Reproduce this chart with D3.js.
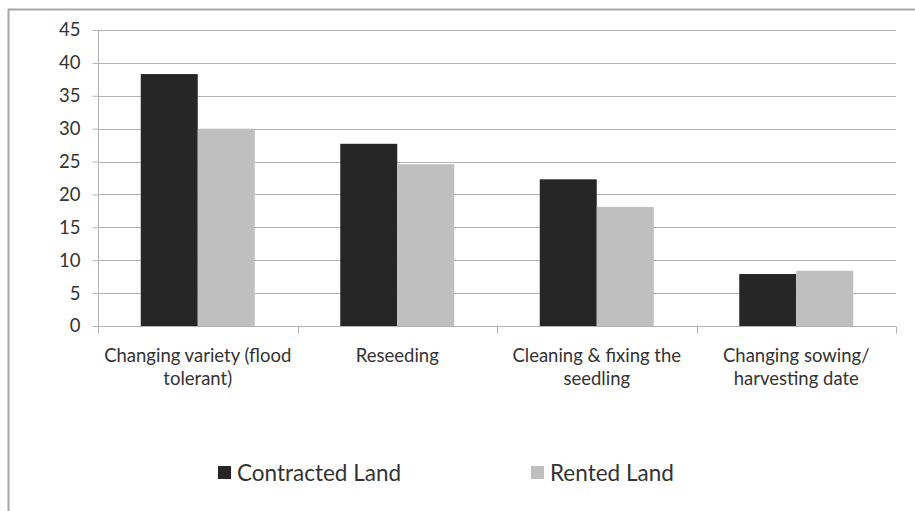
<!DOCTYPE html>
<html><head><meta charset="utf-8">
<script src="https://cdn.jsdelivr.net/npm/d3@7"></script>
<style>body{margin:0;background:#fff}svg{display:block}</style>
</head><body><svg id="c" width="915" height="511"></svg>
<script>
const categories = [["Changing variety (flood","tolerant)"],["Reseeding"],["Cleaning & fixing the","seedling"],["Changing sowing/","harvesting date"]];
const seriesNames = ["Contracted Land","Rented Land"];
const contracted = [38.3, 27.7, 22.3, 7.9];
const rented = [30.0, 24.6, 18.1, 8.4];
const yTicks = [0,5,10,15,20,25,30,35,40,45];
const colors = ["#262626","#bfbfbf"];
const font = "Lato, 'Open Sans', sans-serif";
const textColor = "#333333";

const svg = d3.select("#c");
// frame
svg.append("line").attr("x1",8.5).attr("x2",8.5).attr("y1",9).attr("y2",511).attr("stroke","#a6a6a6").attr("stroke-width",2);
svg.append("line").attr("x1",8).attr("x2",915).attr("y1",9.5).attr("y2",9.5).attr("stroke","#a6a6a6").attr("stroke-width",2);

const L=98, R=896, T=30, B=326;
const idx = categories.map((d,i)=>i);
const x = d3.scaleBand().domain(idx).range([L,R]).paddingInner(0).paddingOuter(0);
const y = d3.scaleLinear().domain([0,45]).range([B,T]);
const x1 = d3.scaleBand().domain([0,1]).range([0,x.bandwidth()]).paddingInner(0).paddingOuter(0.75);

// gridlines
svg.append("g").selectAll("line").data(yTicks.filter(t=>t>0)).join("line")
  .attr("x1",L).attr("x2",R).attr("y1",d=>Math.round(y(d))+0.5).attr("y2",d=>Math.round(y(d))+0.5)
  .attr("stroke","#b3b3b3").attr("stroke-width",1.2);

// bars
const series=[contracted,rented];
series.forEach((s,si)=>{
  svg.append("g").selectAll("rect").data(s).join("rect")
    .attr("x",(d,i)=>x(i)+x1(si)).attr("width",x1.bandwidth())
    .attr("y",d=>y(d)).attr("height",d=>B-y(d)).attr("fill",colors[si]);
});

// y axis
const ya = svg.append("g").attr("transform",`translate(${L+0.5},0)`)
  .call(d3.axisLeft(y).tickValues(yTicks).tickSize(6).tickPadding(12));
ya.select(".domain").attr("stroke","#b3b3b3").attr("d",`M0,${T}V${B}`);
ya.selectAll(".tick line").attr("stroke","#b3b3b3");
ya.selectAll("text").attr("font-family",font).attr("font-size",18.5).attr("fill",textColor);

// x axis
const xa = svg.append("g").attr("transform",`translate(0,${B+0.5})`);
xa.append("line").attr("x1",L).attr("x2",R).attr("stroke","#b3b3b3").attr("stroke-width",1.2);
const bounds = idx.map(i=>x(i)).concat([R]);
xa.selectAll(".tk").data(bounds).join("line").attr("class","tk")
  .attr("x1",d=>Math.round(d)+0.5).attr("x2",d=>Math.round(d)+0.5).attr("y1",0).attr("y2",7).attr("stroke","#b3b3b3");
const lab = svg.append("g");
categories.forEach((lines,i)=>{
  const t = lab.append("text").attr("x",x(i)+x.bandwidth()/2).attr("y",362)
    .attr("text-anchor","middle").attr("font-family",font).attr("font-size",18.5).attr("fill",textColor);
  lines.forEach((ln,j)=>t.append("tspan").attr("x",x(i)+x.bandwidth()/2).attr("dy",j?23:0).text(ln));
});

// legend
const legX=[218,531];
seriesNames.forEach((n,i)=>{
  svg.append("rect").attr("x",legX[i]).attr("y",466).attr("width",13).attr("height",13).attr("fill",colors[i]);
  svg.append("text").attr("x",legX[i]+19).attr("y",481).attr("font-family",font).attr("font-size",22.5)
    .attr("fill",textColor).text(n);
});
</script></body></html>
